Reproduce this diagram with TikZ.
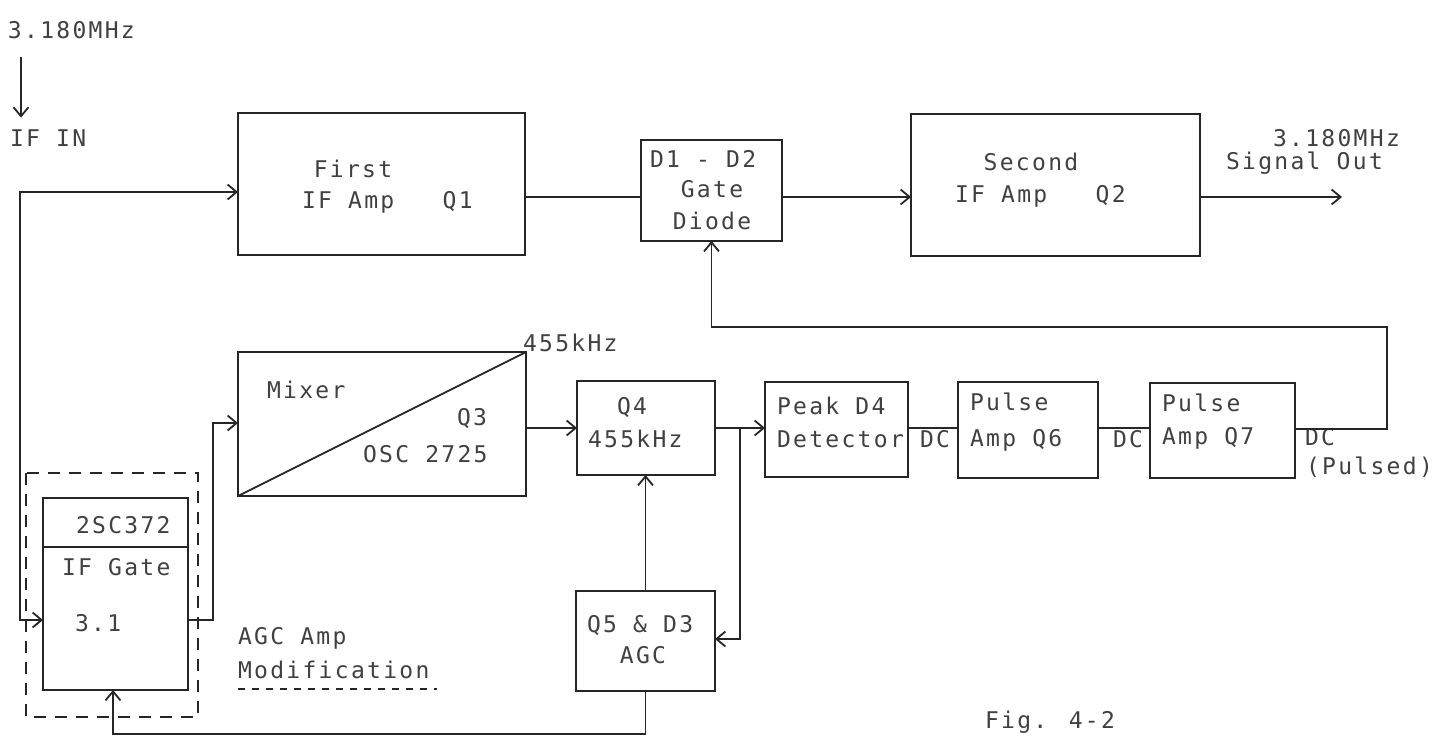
\documentclass[tikz,border=0pt]{standalone}
\usepackage{fontspec}
\newfontfamily\plotfont{DejaVu Sans Mono}[LetterSpace=10]
\usetikzlibrary{arrows.meta}

\begin{document}
\begin{tikzpicture}[x=1pt,y=-1pt,line width=1.8pt,draw=black!85,
  every node/.style={font=\plotfont\fontsize{23}{26}\selectfont,text=black!75,
    inner sep=0pt,outer sep=0pt},
  box/.style={draw=black!85,rectangle},
  lbl/.style={anchor=west},
  >={Straight Barb[length=9pt,width=15pt]}]
\newcommand{\rfblock}[5]{%
  \node[box,minimum width={(#4-#2)*1pt},minimum height={(#5-#3)*1pt}]
    (#1) at ({(#2+#4)/2},{(#3+#5)/2}) {};}

\useasboundingbox (0,0) rectangle (1435,736);

\rfblock{firstamp}{238}{113}{525}{255}
\rfblock{gatediode}{641}{140}{782}{241}
\rfblock{secondamp}{911}{114}{1200}{256}
\rfblock{mixer}{238}{352}{526}{496}
\rfblock{qfour}{577}{381}{715}{475}
\rfblock{peakdet}{765}{382}{908}{477}
\rfblock{pulsesix}{958}{382}{1098}{478}
\rfblock{pulseseven}{1150}{383}{1295}{478}
\rfblock{agc}{576}{591}{715}{691}
\rfblock{ifgate}{43}{498}{188}{690}
\draw[dash pattern=on 12pt off 9pt] (26,473) rectangle (198,717);

\node[lbl] (mhzin) at (8,30) {3.180MHz};
\node[lbl] (ifin) at (10,138) {IF IN};
\node (firstlbl) at (353,169) {First};
\node[lbl] (firstq) at (302,202) {IF Amp~~~Q1};
\node[lbl] (gatea) at (650,159) {D1 - D2};
\node (gateb) at (712,189) {Gate};
\node (gatec) at (712,221) {Diode};
\node (secondlbl) at (1031,162) {Second};
\node[lbl] (secondq) at (955,196) {IF Amp~~~Q2};
\node[lbl] (mhzout) at (1273,138) {3.180MHz};
\node[lbl] (sigout) at (1226,163) {Signal Out};
\node[lbl] (mixlbl) at (267,390) {Mixer};
\node[lbl] (qthree) at (457,418) {Q3};
\node[lbl] (osclbl) at (363,454) {OSC 2725};
\node[lbl] (mixfreq) at (523,343) {455kHz};
\node (qfourlbl) at (632,407) {Q4};
\node[lbl] (qfourfreq) at (588,439) {455kHz};
\node[lbl] (peaka) at (777,406) {Peak D4};
\node[lbl] (peakb) at (777,439) {Detector};
\node[lbl] (sixa) at (970,402) {Pulse};
\node[lbl] (sixb) at (970,440) {Amp Q6};
\node[lbl] (sevena) at (1162,403) {Pulse};
\node[lbl] (sevenb) at (1162,438) {Amp Q7};
\node[lbl] (dcone) at (920,439) {DC};
\node[lbl] (dctwo) at (1113,439) {DC};
\node[lbl] (dcthree) at (1305,437) {DC};
\node[lbl] (pulsed) at (1306,467) {(Pulsed)};
\node[lbl] (agca) at (587,625) {Q5 \& D3};
\node (agcb) at (643,655) {AGC};
\node[lbl] (gatetype) at (76,525) {2SC372};
\node[lbl] (gatename) at (62,567) {IF Gate};
\node[lbl] (gatenum) at (75,623) {3.1};
\node[lbl] (moda) at (238,638) {AGC Amp};
\node[lbl] (modb) at (238,670) {Modification};
\node[lbl] (figlbl) at (985,722) {Fig. 4-2};

\coordinate (sig) at (0,197);
\coordinate (sigend) at (1342,197);
\coordinate (bustop) at (20,192);
\coordinate (busbot) at (20,620);
\coordinate (mixup) at (213,423);
\coordinate (iflo) at (0,428);
\coordinate (tap) at (740,428);
\coordinate (agcin) at (740,639);
\coordinate (agcbus) at (113,734);
\coordinate (fbright) at (1387,429);
\coordinate (fbtop) at (1387,327);
\coordinate (gatesplit) at (0,547);

\draw[->] ([xshift=13pt,yshift=-18pt]mhzin.south west)
  -- ([xshift=11pt,yshift=12pt]ifin.north west);
\draw[<->] (firstamp.west |- bustop) -- (bustop) -- (busbot)
  -- (ifgate.west |- busbot);
\draw (firstamp.east |- sig) -- (gatediode.west |- sig);
\draw[->] (gatediode.east |- sig) -- (secondamp.west |- sig);
\draw[->] (secondamp.east |- sig) -- (sigend);
\draw[->] (pulseseven.east |- fbright) -- (fbright) -- (fbtop)
  -- (gatediode.south |- fbtop) -- (gatediode.south);
\draw[->] (ifgate.east |- busbot) -- (mixup |- busbot) -- (mixup)
  -- (mixer.west |- mixup);
\draw (mixer.south west) -- (mixer.north east);
\draw[->] (mixer.east |- iflo) -- (qfour.west |- iflo);
\draw[->] (qfour.east |- iflo) -- (peakdet.west |- iflo);
\draw[->] (tap) -- (agcin) -- (agc.east |- agcin);
\draw[->] (agc.north) -- (agc.north |- qfour.south);
\draw[->] (agc.south) -- (agc.south |- agcbus) -- (agcbus)
  -- (agcbus |- ifgate.south);
\draw (peakdet.east |- iflo) -- (pulsesix.west |- iflo);
\draw (pulsesix.east |- iflo) -- (pulseseven.west |- iflo);
\draw (ifgate.west |- gatesplit) -- (ifgate.east |- gatesplit);
\draw[dash pattern=on 7pt off 7pt] ([yshift=-10pt]modb.south west)
  -- ([xshift=8pt,yshift=-10pt]modb.south east);
\end{tikzpicture}
\end{document}
